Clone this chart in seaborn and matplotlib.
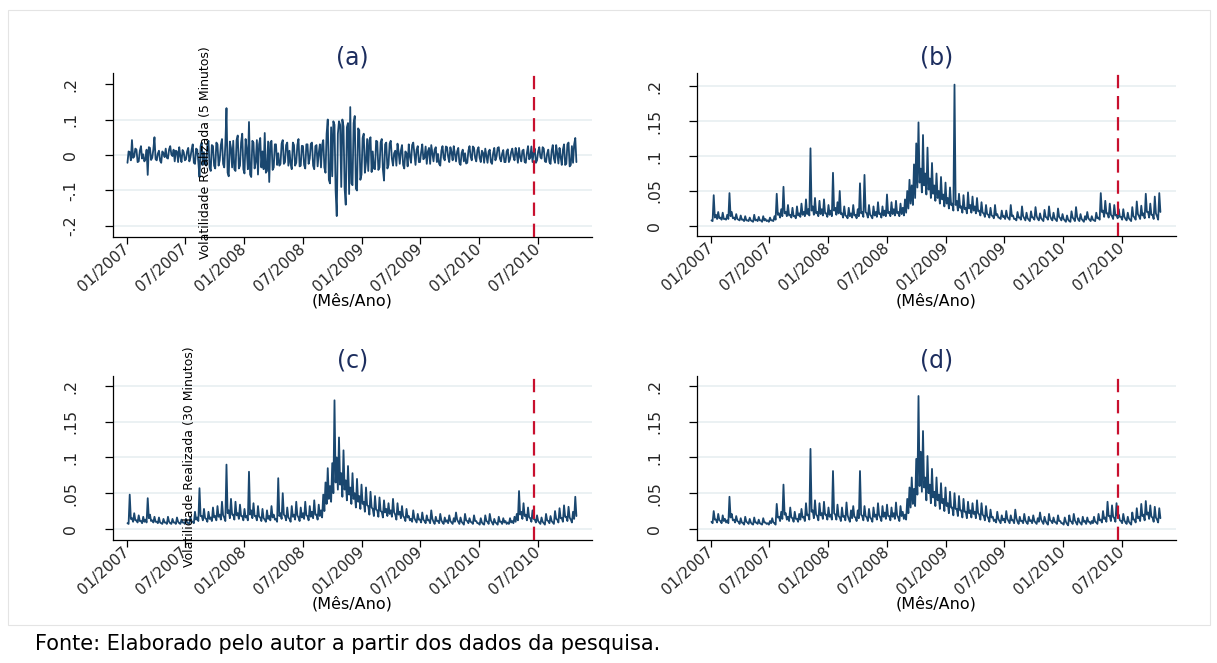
import numpy as np
import pandas as pd
import matplotlib
matplotlib.use("Agg")
import matplotlib.pyplot as plt
from matplotlib.patches import Rectangle
import seaborn as sns

sns.set_theme(style="white")
plt.rcParams["font.family"] = ["DejaVu Sans"]

# ---------------- data (values in thousandths) ----------------
# Each series is read as two half-week readings per week: the first list holds
# the reading at the start of each week, the second the one mid-week.
start_date = "2007-01-02"
break_date = "2010-06-21"
x_limits = ("2006-11-18", "2010-12-17")
tick_dates = ["2007-01-01", "2007-07-01", "2008-01-01", "2008-07-01",
              "2009-01-01", "2009-07-01", "2010-01-01", "2010-07-01"]

series_a_1 = [
    -22, 8, 42, -5, 15, -18, 25, 2, -12, -56, 20, -8, 50,
    -15, 12, -22, 5, 18, -10, 25, -3, -18, 10, 22, -20, 8,
    -12, 20, -6, 30, -25, 15, -62, 35, 8, -30, 40, -45, 25,
    -38, 30, -15, 45, -35, 132, -60, 20, 40, -45, 55, -30, 60,
    -52, 15, 93, -62, 35, -20, -55, 48, 10, 62, -45, -76, 40,
    -35, 30, 5, -25, 42, -20, 35, 12, -40, 28, -22, 45, -30,
    25, -38, 30, -10, 35, -40, 28, 5, -35, 42, -50, 100, -80,
    -60, 85, -172, 95, -90, 80, -140, 90, 135, -85, 110, -100, 70,
    -55, 60, -20, -45, 50, 10, -40, 38, -35, 45, -72, 35, -28,
    40, -30, 12, 32, -25, 28, -38, 5, 30, -22, 35, -28, 25,
    -20, 30, -8, -25, 20, 28, -18, 22, 3, -30, 25, -15, 22,
    -20, 8, 25, -18, 20, -28, 15, 5, -22, 25, -15, 20, -18,
    22, -20, 6, 18, -22, 15, -25, 20, -5, 22, -18, 14, -20,
    16, -12, 18, -15, 4, 20, -18, 15, -22, 25, -8, -20, 18,
    -15, 22, -10, 18, -20, 15, -25, 28, -22, 5, 20, -28, 30,
    -25, 35, -28, -22, 48,
]
series_a_2 = [
    10, -15, -8, 18, -20, 12, -10, -18, 15, 22, -14, 16, -12,
    4, -16, 10, -6, -8, 16, 2, 15, 12, -20, -3, 14, -15,
    10, -18, 15, -22, 18, -20, 25, -28, -25, 30, -35, 28, -30,
    35, -30, 28, -25, 30, -50, 38, -35, -40, 42, -38, 35, -40,
    45, -40, -55, 40, -38, 42, 30, -35, -40, -50, 38, 35, -42,
    30, -28, -30, 32, -25, 28, -30, -25, 35, -30, 28, -32, 26,
    -28, 30, -25, 32, -30, 25, -32, 30, 28, -35, 60, -70, 78,
    95, -100, 60, 85, 100, -95, 78, -110, -80, 90, -95, 75, -70,
    48, -50, 45, 42, -48, -38, 40, -42, 35, -40, 30, -38, 32,
    -10, 5, -30, 8, 12, -28, 10, -32, -5, 28, 2, 15, -20,
    8, -12, 24, 10, -25, 5, 15, -20, -25, 12, -8, 24, -5,
    22, -15, 2, 10, -22, 6, -18, -24, 12, -5, 24, -8, 14,
    -8, 12, -22, -3, 10, -20, 5, -15, 20, -10, 4, -20, 10,
    -20, 8, -4, 20, -22, -6, 12, -20, 6, -12, 24, 8, -22,
    10, -6, 22, -18, 4, -20, 12, -10, 28, -24, -6, 15, -28,
    30, -32, 25, 30, -20,
]

series_b_1 = [
    8, 44, 16, 20, 12, 19, 10, 16, 47, 20, 12, 17, 9,
    15, 9, 14, 8, 12, 7, 16, 9, 13, 8, 14, 10, 8,
    12, 8, 14, 46, 18, 24, 56, 20, 30, 16, 26, 14, 28,
    18, 32, 20, 38, 24, 111, 28, 40, 20, 36, 24, 38, 18,
    30, 22, 76, 26, 34, 50, 18, 28, 14, 26, 18, 30, 16,
    24, 61, 20, 73, 18, 30, 14, 28, 20, 34, 18, 28, 22,
    45, 20, 34, 24, 36, 20, 32, 26, 38, 50, 66, 58, 88,
    118, 148, 82, 130, 75, 112, 68, 90, 58, 75, 50, 70, 45,
    62, 40, 55, 32, 202, 36, 46, 28, 44, 26, 48, 30, 42,
    28, 40, 22, 34, 18, 30, 16, 26, 14, 30, 17, 12, 22,
    14, 22, 11, 30, 15, 10, 20, 12, 28, 11, 19, 9, 21,
    12, 27, 10, 18, 9, 23, 12, 28, 10, 19, 9, 25, 11,
    17, 8, 15, 7, 21, 10, 27, 9, 17, 8, 14, 20, 9,
    14, 8, 19, 12, 47, 22, 36, 18, 32, 14, 30, 16, 24,
    13, 24, 10, 19, 9, 27, 12, 35, 14, 29, 18, 46, 20,
    32, 16, 42, 14, 47,
]
series_b_2 = [
    7, 12, 10, 11, 9, 10, 9, 10, 14, 11, 9, 10, 8,
    9, 7, 8, 7, 8, 6, 8, 7, 8, 6, 8, 7, 6,
    8, 7, 9, 16, 12, 14, 18, 14, 15, 12, 14, 11, 15,
    13, 16, 14, 17, 15, 22, 16, 18, 14, 17, 15, 18, 13,
    16, 14, 22, 16, 18, 17, 12, 15, 11, 14, 12, 15, 11,
    14, 18, 13, 20, 12, 16, 11, 15, 13, 17, 12, 15, 14,
    18, 14, 17, 15, 18, 14, 17, 15, 19, 25, 32, 30, 40,
    55, 62, 48, 58, 45, 52, 40, 46, 36, 40, 32, 38, 28,
    32, 25, 30, 22, 30, 22, 26, 19, 24, 18, 25, 19, 22,
    18, 21, 15, 19, 13, 17, 12, 15, 11, 15, 12, 10, 13,
    10, 13, 9, 14, 10, 8, 12, 9, 14, 8, 11, 7, 12,
    9, 14, 8, 11, 7, 13, 9, 14, 8, 11, 7, 13, 8,
    10, 6, 9, 6, 12, 7, 13, 7, 10, 6, 9, 11, 7,
    9, 7, 11, 9, 20, 13, 18, 12, 16, 10, 15, 11, 13,
    9, 13, 8, 11, 7, 14, 9, 17, 10, 15, 11, 20, 12,
    16, 10, 18, 9, 20,
]

series_c_1 = [
    8, 48, 15, 22, 12, 19, 11, 17, 13, 43, 20, 12, 17,
    10, 16, 8, 14, 9, 17, 8, 14, 9, 16, 8, 13, 9,
    14, 8, 17, 10, 24, 16, 57, 18, 28, 14, 24, 16, 30,
    18, 32, 20, 38, 16, 90, 26, 42, 20, 38, 22, 34, 18,
    28, 18, 80, 26, 36, 18, 32, 16, 28, 13, 26, 18, 32,
    20, 14, 71, 22, 50, 18, 30, 14, 32, 20, 38, 16, 30,
    22, 38, 18, 32, 24, 40, 20, 34, 26, 48, 65, 85, 60,
    92, 180, 100, 128, 78, 110, 68, 88, 58, 78, 50, 70, 46,
    62, 38, 58, 32, 52, 28, 46, 26, 44, 24, 40, 28, 36,
    26, 42, 20, 36, 24, 32, 16, 28, 18, 14, 26, 12, 21,
    13, 23, 11, 19, 12, 26, 10, 17, 11, 21, 9, 16, 12,
    19, 9, 15, 23, 10, 16, 8, 21, 11, 15, 9, 19, 11,
    8, 15, 7, 19, 10, 21, 9, 14, 8, 17, 10, 15, 11,
    9, 15, 11, 17, 21, 53, 24, 36, 20, 30, 15, 26, 13,
    19, 9, 16, 8, 21, 11, 18, 9, 25, 13, 29, 15, 33,
    17, 31, 13, 24, 45,
]
series_c_2 = [
    7, 14, 10, 12, 9, 11, 8, 10, 9, 15, 11, 9, 10,
    8, 9, 7, 9, 7, 10, 7, 9, 7, 10, 7, 9, 7,
    9, 7, 10, 8, 13, 11, 18, 12, 15, 10, 14, 11, 16,
    12, 17, 13, 19, 11, 22, 15, 20, 13, 19, 14, 18, 12,
    16, 12, 20, 15, 18, 12, 17, 11, 15, 10, 14, 12, 16,
    13, 10, 18, 14, 20, 12, 16, 10, 17, 13, 19, 11, 16,
    14, 19, 12, 17, 15, 20, 13, 18, 16, 25, 35, 42, 38,
    50, 65, 55, 62, 45, 55, 40, 48, 35, 42, 30, 38, 28,
    35, 24, 33, 20, 30, 18, 27, 17, 25, 16, 23, 18, 21,
    17, 23, 13, 20, 15, 18, 11, 16, 12, 10, 15, 9, 13,
    9, 13, 8, 12, 8, 14, 7, 11, 8, 12, 7, 10, 8,
    11, 7, 10, 13, 7, 10, 6, 12, 8, 10, 7, 11, 8,
    6, 9, 6, 11, 7, 12, 6, 9, 6, 10, 7, 9, 7,
    7, 9, 8, 10, 12, 20, 14, 18, 12, 16, 10, 14, 9,
    11, 7, 10, 6, 12, 8, 11, 7, 14, 9, 15, 10, 17,
    11, 16, 9, 14, 18,
]

series_d_1 = [
    10, 25, 13, 21, 11, 19, 14, 12, 45, 21, 13, 18, 10,
    15, 8, 17, 9, 14, 7, 16, 9, 13, 7, 15, 9, 8,
    11, 15, 8, 35, 17, 24, 62, 22, 17, 30, 15, 24, 14,
    21, 28, 17, 36, 20, 112, 26, 40, 18, 36, 22, 38, 20,
    30, 20, 81, 20, 34, 16, 30, 18, 37, 14, 26, 32, 16,
    26, 81, 18, 32, 16, 28, 14, 30, 20, 36, 16, 32, 23,
    34, 18, 30, 22, 37, 16, 32, 24, 20, 42, 58, 72, 56,
    98, 186, 108, 137, 72, 102, 62, 84, 52, 72, 48, 64, 42,
    58, 36, 52, 30, 50, 28, 46, 26, 42, 24, 38, 26, 36,
    24, 40, 20, 36, 18, 32, 15, 27, 17, 13, 24, 11, 19,
    14, 25, 11, 19, 12, 27, 10, 17, 11, 21, 9, 17, 12,
    19, 9, 15, 23, 10, 17, 8, 21, 11, 16, 9, 19, 11,
    8, 16, 7, 19, 10, 21, 9, 15, 8, 17, 11, 16, 10,
    11, 17, 9, 21, 13, 25, 16, 38, 18, 33, 15, 36, 20,
    11, 21, 9, 17, 8, 23, 13, 29, 17, 35, 20, 39, 23,
    33, 16, 31, 13, 29,
]
series_d_2 = [
    8, 13, 9, 12, 8, 11, 9, 8, 16, 12, 9, 11, 7,
    9, 6, 10, 7, 9, 6, 9, 7, 8, 6, 9, 7, 6,
    8, 9, 6, 16, 11, 14, 20, 13, 11, 16, 10, 14, 10,
    13, 16, 11, 19, 13, 24, 15, 20, 12, 19, 14, 20, 13,
    17, 13, 22, 13, 18, 11, 17, 12, 19, 10, 15, 17, 11,
    15, 20, 12, 18, 11, 16, 10, 17, 13, 19, 11, 17, 14,
    18, 12, 17, 14, 19, 11, 18, 14, 13, 22, 30, 35, 32,
    48, 60, 52, 58, 40, 50, 36, 44, 32, 40, 28, 36, 25,
    32, 22, 30, 19, 28, 18, 26, 16, 24, 15, 22, 16, 21,
    15, 22, 13, 20, 12, 18, 10, 16, 11, 9, 14, 8, 12,
    9, 14, 8, 12, 8, 15, 7, 11, 8, 12, 7, 11, 8,
    11, 7, 10, 13, 7, 11, 6, 12, 8, 10, 7, 11, 8,
    6, 10, 5, 11, 7, 12, 6, 10, 6, 10, 7, 10, 7,
    8, 10, 7, 12, 9, 14, 10, 18, 11, 17, 10, 18, 12,
    8, 12, 7, 10, 6, 13, 9, 15, 11, 18, 12, 20, 14,
    17, 10, 16, 9, 15,
]

panel_titles = ["(a)", "(b)", "(c)", "(d)"]
y_ticks_a = [-0.2, -0.1, 0.0, 0.1, 0.2]
y_ticklabels_a = ["-.2", "-.1", "0", ".1", ".2"]
grid_a = [-0.2, -0.1, 0.0, 0.1]
y_ticks_pos = [0.0, 0.05, 0.1, 0.15, 0.2]
y_ticklabels_pos = ["0", ".05", ".1", ".15", ".2"]
x_label = "(Mês/Ano)"
ylabel_5 = "Volatilidade Realizada (5 Minutos)"
ylabel_30 = "Volatilidade Realizada (30 Minutos)"
footer = "Fonte: Elaborado pelo autor a partir dos dados da pesquisa."

# ---------------- styling ----------------
LINE = "#1a476f"
RED = "#c8102e"
GRID = "#e8eff1"
TITLE_C = "#1c2d5e"

W, H = 1217, 663
fig = plt.figure(figsize=(W / 100, H / 100), dpi=100)
fig.patch.set_facecolor("white")


def fx(px):
    return px / W


def fy(py):
    return 1 - py / H


ax_w = fx(592) - fx(113)
positions = {
    "a": [fx(113), fy(237), ax_w, fy(73) - fy(237)],
    "b": [fx(697), fy(236), ax_w, fy(73) - fy(236)],
    "c": [fx(113), fy(540), ax_w, fy(376) - fy(540)],
    "d": [fx(697), fy(540), ax_w, fy(376) - fy(540)],
}
ylims = {"a": (-0.231, 0.231), "b": (-0.0143, 0.2186),
         "c": (-0.0155, 0.214), "d": (-0.0155, 0.214)}
data = {"a": (series_a_1, series_a_2), "b": (series_b_1, series_b_2),
        "c": (series_c_1, series_c_2), "d": (series_d_1, series_d_2)}

xmin, xmax = pd.Timestamp(x_limits[0]), pd.Timestamp(x_limits[1])
ticks = pd.to_datetime(tick_dates)

for key, title in zip("abcd", panel_titles):
    first, second = data[key]
    vals = np.column_stack([first, second]).ravel().astype(float) / 1000.0
    dates = pd.date_range(start_date, periods=len(vals), freq="84h")
    df = pd.DataFrame({"date": dates, "value": vals})
    ax = fig.add_axes(positions[key])
    ax.set_facecolor("white")
    if key == "a":
        yt, ytl, grid_vals = y_ticks_a, y_ticklabels_a, grid_a
    else:
        yt, ytl, grid_vals = y_ticks_pos, y_ticklabels_pos, y_ticks_pos
    for g in grid_vals:
        ax.axhline(g, color=GRID, lw=1.2, zorder=0)
    sns.lineplot(data=df, x="date", y="value", ax=ax, color=LINE, lw=1.3,
                 zorder=3)
    ax.axvline(pd.Timestamp(break_date), color=RED, lw=1.6,
               dashes=(6, 3.5), zorder=4)
    ax.set_xlim(xmin, xmax)
    ax.set_ylim(*ylims[key])
    ax.set_yticks(yt)
    ax.set_yticklabels(ytl)
    ax.set_xticks(ticks)
    ax.set_xticklabels([t.strftime("%m/%Y") for t in ticks])
    ax.set_xlabel("")
    ax.set_ylabel("")
    for s in ["top", "right"]:
        ax.spines[s].set_visible(False)
    for s in ["left", "bottom"]:
        ax.spines[s].set_color("black")
        ax.spines[s].set_linewidth(0.9)
    ax.tick_params(axis="y", direction="out", length=6, width=0.9,
                   color="black", labelsize=11.3, pad=19, labelrotation=90,
                   left=True)
    ax.tick_params(axis="x", direction="out", length=5, width=0.9,
                   color="black", labelsize=11, pad=2, bottom=True)
    for lab in ax.get_yticklabels():
        lab.set_va("center")
        lab.set_ha("right")
    for lab in ax.get_xticklabels():
        lab.set_rotation(42)
        lab.set_ha("right")
        lab.set_va("center")
        lab.set_rotation_mode("anchor")
    pos = positions[key]
    cx = pos[0] + pos[2] / 2
    ty = 58 if key in "ab" else 361
    fig.text(cx, fy(ty), title, ha="center", va="center", fontsize=17,
             color=TITLE_C)
    xl_y = 301 if key in "ab" else 604
    fig.text(cx, fy(xl_y), x_label, ha="center", va="center", fontsize=11.5,
             color="black")

fig.text(fx(205), fy(153), ylabel_5, rotation=90, ha="center", va="center",
         fontsize=9, color="black")
fig.text(fx(189), fy(457), ylabel_30, rotation=90, ha="center", va="center",
         fontsize=9, color="black")

fig.text(fx(35), fy(644), footer, ha="left", va="center", fontsize=15,
         color="black")

frame = Rectangle((fx(8), fy(625)), fx(1210) - fx(8), fy(10) - fy(625),
                  transform=fig.transFigure, fill=False, edgecolor="#e4e4e4",
                  lw=0.8)
fig.patches.append(frame)

fig.savefig("out.png", dpi=100, facecolor="white")
